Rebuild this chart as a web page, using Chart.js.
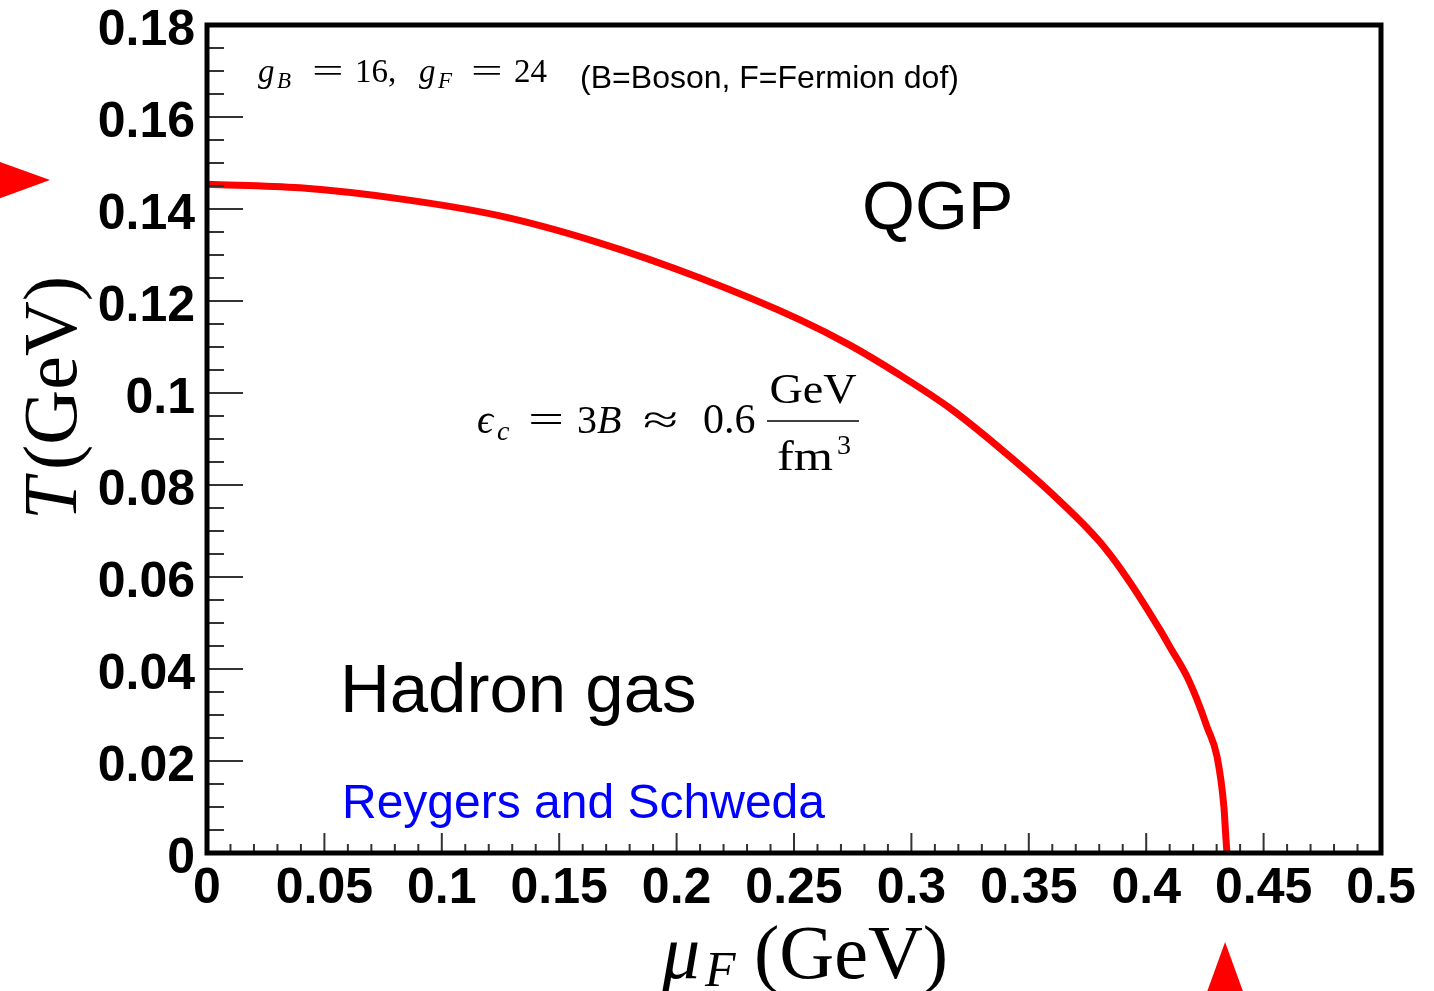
<!DOCTYPE html>
<html>
<head>
<meta charset="utf-8">
<title>Bag model phase boundary</title>
<script src="https://cdn.jsdelivr.net/npm/chart.js@4.4.0/dist/chart.umd.min.js"></script>
<style>
  html, body { margin: 0; padding: 0; background: #fff; }
  #wrap { width: 1434px; height: 991px; }
</style>
</head>
<body>
<div id="wrap"><canvas id="phaseChart"></canvas></div>
<script>
// phase boundary: mu_F (GeV) and T (GeV)
const muF = [0, 0.0396, 0.0822, 0.1248, 0.1674, 0.2100, 0.2526, 0.2738, 0.2951, 0.3164, 0.3377,
             0.3590, 0.3803, 0.3918, 0.4059, 0.4101, 0.4174, 0.4229, 0.4259, 0.4302, 0.4331, 0.4340, 0.4344];
const tempT = [0.1454, 0.1446, 0.1422, 0.1385, 0.1326, 0.1250, 0.1159, 0.1104, 0.1039, 0.0967, 0.0880,
               0.0785, 0.0676, 0.0598, 0.0485, 0.0448, 0.0383, 0.0317, 0.0274, 0.0209, 0.0100, 0.0028, 0];

// axis ticks
const xTickValues = [0, 0.05, 0.1, 0.15, 0.2, 0.25, 0.3, 0.35, 0.4, 0.45, 0.5];
const xTickLabels = ['0', '0.05', '0.1', '0.15', '0.2', '0.25', '0.3', '0.35', '0.4', '0.45', '0.5'];
const yTickValues = [0, 0.02, 0.04, 0.06, 0.08, 0.1, 0.12, 0.14, 0.16, 0.18];
const yTickLabels = ['0', '0.02', '0.04', '0.06', '0.08', '0.1', '0.12', '0.14', '0.16', '0.18'];

// critical values marked by the red arrows
const criticalT = 0.1463;
const criticalMu = 0.4336;

const serif = "'Liberation Serif', 'DejaVu Serif', serif";
const sans = "'Liberation Sans', Arial, Helvetica, sans-serif";

// text placed in data coordinates (mu, T), runs offset in pixels from the anchor
const annotations = [
    { mu: 0.0217, t: 0.1676, runs: [
        { t: 'g', font: 'italic 33px ' + serif, dx: 0 },
        { t: 'B', font: 'italic 23px ' + serif, dx: 19, dy: 6 },
        { t: '=', font: '33px ' + serif, dx: 54, sx: 1.7 },
        { t: '16,', font: '33px ' + serif, dx: 97 },
        { t: 'g', font: 'italic 33px ' + serif, dx: 161 },
        { t: 'F', font: 'italic 23px ' + serif, dx: 180, dy: 6 },
        { t: '=', font: '33px ' + serif, dx: 213, sx: 1.7 },
        { t: '24', font: '33px ' + serif, dx: 256 }
    ]},
    { mu: 0.1589, t: 0.1663, runs: [{ t: '(B=Boson, F=Fermion dof)', font: '32px ' + sans, dx: 0 }] },
    { mu: 0.279, t: 0.1357, runs: [{ t: 'QGP', font: '68px ' + sans, dx: 0 }] },
    { mu: 0.0566, t: 0.0307, runs: [{ t: 'Hadron gas', font: '69px ' + sans, dx: 0 }] },
    { mu: 0.0575, t: 0.0076, runs: [{ t: 'Reygers and Schweda', font: '48px ' + sans, dx: 0, color: '#0000ff' }] },
    { mu: 0.115, t: 0.0913, runs: [
        { t: '\u03f5', font: 'italic 40px ' + serif, dx: 0 },
        { t: 'c', font: 'italic 28px ' + serif, dx: 20, dy: 7 },
        { t: '=', font: '40px ' + serif, dx: 51, sx: 1.6 },
        { t: '3', font: '40px ' + serif, dx: 100 },
        { t: 'B', font: 'italic 40px ' + serif, dx: 120 },
        { t: '\u2248', font: '40px ' + serif, dx: 166, sx: 1.6 },
        { t: '0.6', font: '42px ' + serif, dx: 226 },
        { t: 'GeV', font: '42px ' + serif, dx: 336, dy: -30, align: 'center', sx: 1.1 },
        { t: 'fm', font: '42px ' + serif, dx: 300, dy: 37, sx: 1.2 },
        { t: '3', font: '28px ' + serif, dx: 360, dy: 21 }
    ], bar: { x0: 290, x1: 382, dy: -12 } }
];

function drawRuns(ctx, x, y, runs) {
    runs.forEach(r => {
        ctx.save();
        ctx.font = r.font;
        ctx.fillStyle = r.color || '#000';
        ctx.textAlign = r.align || 'left';
        ctx.textBaseline = 'alphabetic';
        ctx.translate(x + r.dx, y + (r.dy || 0));
        ctx.scale(r.sx || 1, 1);
        ctx.fillText(r.t, 0, 0);
        ctx.restore();
    });
}

// ROOT-like frame with inward ticks, labels, axis titles and arrows
const rootStyle = {
    id: 'rootStyle',
    afterDatasetsDraw(chart) {
        const ctx = chart.ctx;
        const area = chart.chartArea;
        const xs = chart.scales.x;
        const ys = chart.scales.y;

        ctx.save();
        ctx.strokeStyle = '#333';
        ctx.lineWidth = 2;
        ctx.beginPath();
        for (let i = 0; i <= 50; i++) {
            const px = xs.getPixelForValue(i * 0.01);
            const len = i % 5 === 0 ? 20 : 9;
            ctx.moveTo(px, area.bottom);
            ctx.lineTo(px, area.bottom - len);
        }
        for (let i = 0; i <= 36; i++) {
            const py = ys.getPixelForValue(i * 0.005);
            const len = i % 4 === 0 ? 36 : 17;
            ctx.moveTo(area.left, py);
            ctx.lineTo(area.left + len, py);
        }
        ctx.stroke();

        ctx.strokeStyle = '#000';
        ctx.lineWidth = 5;
        ctx.strokeRect(area.left, area.top, area.right - area.left, area.bottom - area.top);

        // annotations
        annotations.forEach(a => {
            const ax = xs.getPixelForValue(a.mu);
            const ay = ys.getPixelForValue(a.t);
            drawRuns(ctx, ax, ay, a.runs);
            if (a.bar) {
                ctx.strokeStyle = '#000';
                ctx.lineWidth = 1.6;
                ctx.beginPath();
                ctx.moveTo(ax + a.bar.x0, ay + a.bar.dy);
                ctx.lineTo(ax + a.bar.x1, ay + a.bar.dy);
                ctx.stroke();
            }
        });

        // axis titles
        drawRuns(ctx, area.left + 455, area.bottom + 125, [
            { t: '\u03bc', font: 'italic 76px ' + serif, dx: 0 },
            { t: 'F', font: 'italic 50px ' + serif, dx: 43, dy: 8 },
            { t: '(GeV)', font: '76px ' + serif, dx: 92 }
        ]);
        ctx.save();
        ctx.translate(area.left - 131, area.bottom - 333);
        ctx.rotate(-Math.PI / 2);
        drawRuns(ctx, 0, 0, [
            { t: 'T', font: 'italic 76px ' + serif, dx: 0 },
            { t: '(GeV)', font: '76px ' + serif, dx: 50 }
        ]);
        ctx.restore();

        // red arrows at the critical values
        ctx.fillStyle = '#ff0000';
        const ty = ys.getPixelForValue(criticalT);
        const tx = area.left - 157;
        ctx.beginPath();
        ctx.moveTo(tx, ty);
        ctx.lineTo(tx - 80, ty - 29);
        ctx.lineTo(tx - 80, ty + 29);
        ctx.closePath();
        ctx.fill();
        const mx = xs.getPixelForValue(criticalMu);
        const my = area.bottom + 89;
        ctx.beginPath();
        ctx.moveTo(mx, my);
        ctx.lineTo(mx - 29, my + 80);
        ctx.lineTo(mx + 29, my + 80);
        ctx.closePath();
        ctx.fill();
        ctx.restore();
    }
};

const tickFont = { family: sans, size: 50, weight: 'bold', lineHeight: 1 };

new Chart(document.getElementById('phaseChart'), {
    type: 'line',
    data: {
        datasets: [{
            label: 'phase boundary',
            data: muF.map((m, i) => ({ x: m, y: tempT[i] })),
            borderColor: '#ff0000',
            borderWidth: 7,
            pointRadius: 0,
            fill: false,
            cubicInterpolationMode: 'monotone'
        }]
    },
    options: {
        responsive: true,
        maintainAspectRatio: false,
        animation: false,
        layout: { padding: { top: 25, right: 53, left: 0, bottom: 0 } },
        plugins: {
            legend: { display: false },
            tooltip: { enabled: false }
        },
        scales: {
            x: {
                type: 'linear',
                min: 0,
                max: 0.5,
                grid: { display: false },
                border: { display: false },
                afterBuildTicks: s => { s.ticks = xTickValues.map(v => ({ value: v })); },
                afterFit: s => { s.height = 138; s.paddingLeft = 0; s.paddingRight = 0; },
                ticks: {
                    autoSkip: false,
                    maxRotation: 0,
                    padding: 3,
                    color: '#000',
                    font: tickFont,
                    callback: (v, i) => xTickLabels[i]
                }
            },
            y: {
                type: 'linear',
                min: 0,
                max: 0.18,
                grid: { display: false },
                border: { display: false },
                afterBuildTicks: s => { s.ticks = yTickValues.map(v => ({ value: v })); },
                afterFit: s => { s.width = 207; s.paddingTop = 0; s.paddingBottom = 0; },
                ticks: {
                    autoSkip: false,
                    padding: 4,
                    labelOffset: 6,
                    color: '#000',
                    font: tickFont,
                    callback: (v, i) => yTickLabels[i]
                }
            }
        }
    },
    plugins: [rootStyle]
});
</script>
</body>
</html>
